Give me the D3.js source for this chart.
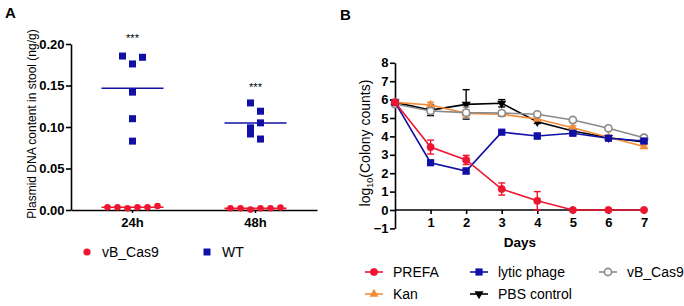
<!DOCTYPE html>
<html><head><meta charset="utf-8">
<script src="https://cdn.jsdelivr.net/npm/d3@7"></script>
<style>
body{margin:0;background:#fff;}
svg{font-family:"Liberation Sans",Arial,sans-serif;}
.tick text{font-weight:bold;font-size:13px;fill:#000;}
</style></head><body>
<svg id="c" width="684" height="306"></svg>
<script>
// ---------- Panel A data ----------
const groupsA = ["24h", "48h"];
const cas9A_24 = [0.0032, 0.0032, 0.002, 0.0032, 0.0032, 0.0048];
const cas9A_48 = [0.002, 0.002, 0.0005, 0.002, 0.002, 0.003];
const wtA_24 = [0.1855, 0.176, 0.184, 0.142, 0.110, 0.083];
const wtA_48 = [0.129, 0.119, 0.099, 0.105, 0.0916, 0.0855];
const yTicksA = [0, 0.05, 0.10, 0.15, 0.20];
const signifA = ["***", "***"];

// ---------- Panel B data ----------
const days = [0, 1, 2, 3, 4, 5, 6, 7];
const prefa = [5.85, 3.42, 2.72, 1.14, 0.5, 0, 0, 0];
const prefaErr = [0.1, 0.38, 0.25, 0.33, 0.5, 0, 0, 0];
const lytic = [5.85, 2.57, 2.12, 4.23, 4.02, 4.17, 3.9, 3.75];
const lyticErr = [0.05, 0.1, 0.15, 0.1, 0.15, 0.1, 0.1, 0.1];
const vbcas9 = [5.76, 5.38, 5.29, 5.27, 5.2, 4.89, 4.44, 3.93];
const vbcas9Err = [0.1, 0.15, 0.3, 0.1, 0.1, 0.1, 0.1, 0.1];
const kan = [5.85, 5.71, 5.25, 5.2, 4.95, 4.47, 3.95, 3.45];
const kanErr = [0.1, 0.15, 0.2, 0.1, 0.1, 0.1, 0.1, 0.1];
const pbs = [5.85, 5.43, 5.74, 5.8, 4.8, 4.29, 3.93, 3.7];
const pbsErr = [0.1, 0.3, 0.8, 0.2, 0.1, 0.1, 0.1, 0.1];
const yTicksB = [-1, 0, 1, 2, 3, 4, 5, 6, 7, 8];
const xTicksB = [1, 2, 3, 4, 5, 6, 7];

const RED = "#ee1530", BLUE = "#1010a6", GREY = "#8a8a8a", ORANGE = "#f28c3a", BLACK = "#000";

const svg = d3.select("#c");

// ================= Panel A =================
const xA = d3.scaleBand().domain(groupsA).range([71, 317]).padding(0);
const yA = d3.scaleLinear().domain([0, 0.2]).range([210, 44]);
const gA = svg.append("g");

gA.append("text").attr("x", 5).attr("y", 18).attr("font-size", 15).attr("font-weight", "bold").text("A");

const yAxA = gA.append("g").attr("transform", "translate(71,0)")
  .call(d3.axisLeft(yA).tickValues(yTicksA).tickFormat(d3.format(".2f")).tickSize(5).tickSizeOuter(0).tickPadding(1.5));
yAxA.select(".domain").attr("stroke-width", 1.6);
yAxA.selectAll(".tick line").attr("stroke-width", 1.6);

const xAxA = gA.append("g").attr("transform", `translate(0,${yA(0)})`)
  .call(d3.axisBottom(xA).tickSize(3).tickSizeOuter(0).tickPadding(5));
xAxA.select(".domain").attr("stroke-width", 1.6);
xAxA.selectAll(".tick line").attr("stroke-width", 1.4);

gA.append("text").attr("transform", `translate(35.5,124) rotate(-90)`)
  .attr("text-anchor", "middle").attr("font-size", 12).text("Plasmid DNA content in stool (ng/g)");

// layout: group close values into rows, center each row
function swarm(vals, cx, step, rowPx) {
  const idx = vals.map((v, i) => i).sort((a, b) => vals[b] - vals[a]);
  const bins = [];
  idx.forEach(i => {
    const last = bins[bins.length - 1];
    if (last && Math.abs(yA(vals[last[0]]) - yA(vals[i])) <= rowPx) last.push(i);
    else bins.push([i]);
  });
  const out = [];
  bins.forEach(b => {
    b.sort((a, c) => a - c);
    b.forEach((i, k) => out.push({v: vals[i], x: cx + (k - (b.length - 1) / 2) * step}));
  });
  return out;
}

const meanHalf = 31;
function drawGroup(g, cas, wt) {
  const cx = xA(g) + xA.bandwidth() / 2;
  gA.append("line").attr("x1", cx - meanHalf).attr("x2", cx + meanHalf)
    .attr("y1", yA(d3.mean(cas))).attr("y2", yA(d3.mean(cas))).attr("stroke", RED).attr("stroke-width", 1.6);
  gA.append("line").attr("x1", cx - meanHalf).attr("x2", cx + meanHalf)
    .attr("y1", yA(d3.mean(wt))).attr("y2", yA(d3.mean(wt))).attr("stroke", BLUE).attr("stroke-width", 1.6);
  gA.selectAll(null).data(swarm(wt, cx, 10, 9)).join("rect")
    .attr("x", d => d.x - 3.5).attr("y", d => yA(d.v) - 3.5).attr("width", 7).attr("height", 7).attr("fill", BLUE);
  gA.selectAll(null).data(swarm(cas, cx, 10, 6)).join("circle")
    .attr("cx", d => d.x).attr("cy", d => yA(d.v)).attr("r", 3.3).attr("fill", RED);
  return cx;
}
const c24 = drawGroup("24h", cas9A_24, wtA_24);
const c48 = drawGroup("48h", cas9A_48, wtA_48);
gA.append("text").attr("x", c24).attr("y", yA(d3.max(wtA_24)) - 14).attr("text-anchor", "middle").attr("font-size", 11).text(signifA[0]);
gA.append("text").attr("x", c48).attr("y", yA(d3.max(wtA_48)) - 12).attr("text-anchor", "middle").attr("font-size", 11).text(signifA[1]);

// legend A
gA.append("circle").attr("cx", 87).attr("cy", 252).attr("r", 3.6).attr("fill", RED);
gA.append("text").attr("x", 102).attr("y", 257).attr("font-size", 14).text("vB_Cas9");
gA.append("rect").attr("x", 203.5).attr("y", 248.5).attr("width", 7).attr("height", 7).attr("fill", BLUE);
gA.append("text").attr("x", 222).attr("y", 257).attr("font-size", 14).text("WT");

// ================= Panel B =================
const xB = d3.scaleLinear().domain([0, 7]).range([395, 644]);
const yB = d3.scaleLinear().domain([-1, 8]).range([228.4, 62.8]);
const gB = svg.append("g");
gB.append("text").attr("x", 340).attr("y", 20).attr("font-size", 15).attr("font-weight", "bold").text("B");

const yAxB = gB.append("g").attr("transform", "translate(395,0)")
  .call(d3.axisLeft(yB).tickValues(yTicksB).tickFormat(d3.format("d")).tickSize(5).tickSizeOuter(0).tickPadding(1.5));
yAxB.select(".domain").attr("stroke-width", 1.6);
yAxB.selectAll(".tick line").attr("stroke-width", 1.6);

const xAxB = gB.append("g").attr("transform", `translate(0,${yB(0)})`)
  .call(d3.axisBottom(xB).tickValues(xTicksB).tickFormat(d3.format("d")).tickSize(4).tickSizeOuter(0).tickPadding(4));
xAxB.select(".domain").attr("stroke-width", 1.6).attr("d", `M${xB(0)},0H${xB(7) + 3}`);
xAxB.selectAll(".tick line").attr("stroke-width", 1.6);

gB.append("text").attr("x", 520).attr("y", 247).attr("text-anchor", "middle").attr("font-size", 13.5).attr("font-weight", "bold").text("Days");

const yl = gB.append("text").attr("transform", `translate(370,143) rotate(-90)`)
  .attr("text-anchor", "middle").attr("font-size", 14);
yl.append("tspan").text("log");
yl.append("tspan").attr("font-size", 9).attr("dy", 3).text("10");
yl.append("tspan").attr("dy", -3).text("(Colony counts)");

const symCircle = (g, color, open) => g.append("circle").attr("r", 3.6)
  .attr("fill", open ? "#fff" : color).attr("stroke", color).attr("stroke-width", open ? 1.6 : 0.8);
const symSquare = (g, color) => g.append("rect").attr("x", -3.6).attr("y", -3.6).attr("width", 7.2).attr("height", 7.2).attr("fill", color);
const symTri = (g, color) => g.append("path").attr("d", d3.symbol(d3.symbolTriangle, 36)()).attr("fill", color);
const symTriDown = (g, color) => g.append("path").attr("d", d3.symbol(d3.symbolTriangle, 36)()).attr("transform", "rotate(180)").attr("fill", color);

const series = [
  {name: "PBS control", vals: pbs, err: pbsErr, color: BLACK, sym: symTriDown},
  {name: "Kan", vals: kan, err: kanErr, color: ORANGE, sym: symTri},
  {name: "vB_Cas9", vals: vbcas9, err: vbcas9Err, color: GREY, sym: (g, c) => symCircle(g, c, true)},
  {name: "lytic phage", vals: lytic, err: lyticErr, color: BLUE, sym: symSquare},
  {name: "PREFA", vals: prefa, err: prefaErr, color: RED, sym: (g, c) => symCircle(g, c, false)}
];

const line = d3.line().x((d, i) => xB(days[i])).y(d => yB(d));
series.forEach(s => {
  const g = gB.append("g");
  s.vals.forEach((v, i) => {
    if (s.err[i] <= 0) return;
    const x = xB(days[i]);
    const y1 = yB(v + s.err[i]), y2 = yB(v - s.err[i]);
    g.append("line").attr("x1", x).attr("x2", x).attr("y1", y1).attr("y2", y2).attr("stroke", s.color).attr("stroke-width", 1.4);
    g.append("line").attr("x1", x - 3.5).attr("x2", x + 3.5).attr("y1", y1).attr("y2", y1).attr("stroke", s.color).attr("stroke-width", 1.4);
    g.append("line").attr("x1", x - 3.5).attr("x2", x + 3.5).attr("y1", y2).attr("y2", y2).attr("stroke", s.color).attr("stroke-width", 1.4);
  });
  g.append("path").attr("d", line(s.vals)).attr("fill", "none").attr("stroke", s.color).attr("stroke-width", 1.6);
  s.vals.forEach((v, i) => {
    const m = g.append("g").attr("transform", `translate(${xB(days[i])},${yB(v)})`);
    s.sym(m, s.color);
  });
});

// legend B
const legB = [
  {s: series[4], x: 365, y: 272},
  {s: series[3], x: 470, y: 272},
  {s: series[2], x: 599, y: 272},
  {s: series[1], x: 365, y: 294},
  {s: series[0], x: 470, y: 294}
];
legB.forEach(l => {
  const g = gB.append("g").attr("transform", `translate(${l.x},${l.y})`);
  g.append("line").attr("x1", 0).attr("x2", 18).attr("stroke", l.s.color).attr("stroke-width", 1.6);
  const m = g.append("g").attr("transform", "translate(9,0)");
  l.s.sym(m, l.s.color);
  g.append("text").attr("x", 28).attr("y", 5).attr("font-size", 14).text(l.s.name);
});
</script>
</body></html>
